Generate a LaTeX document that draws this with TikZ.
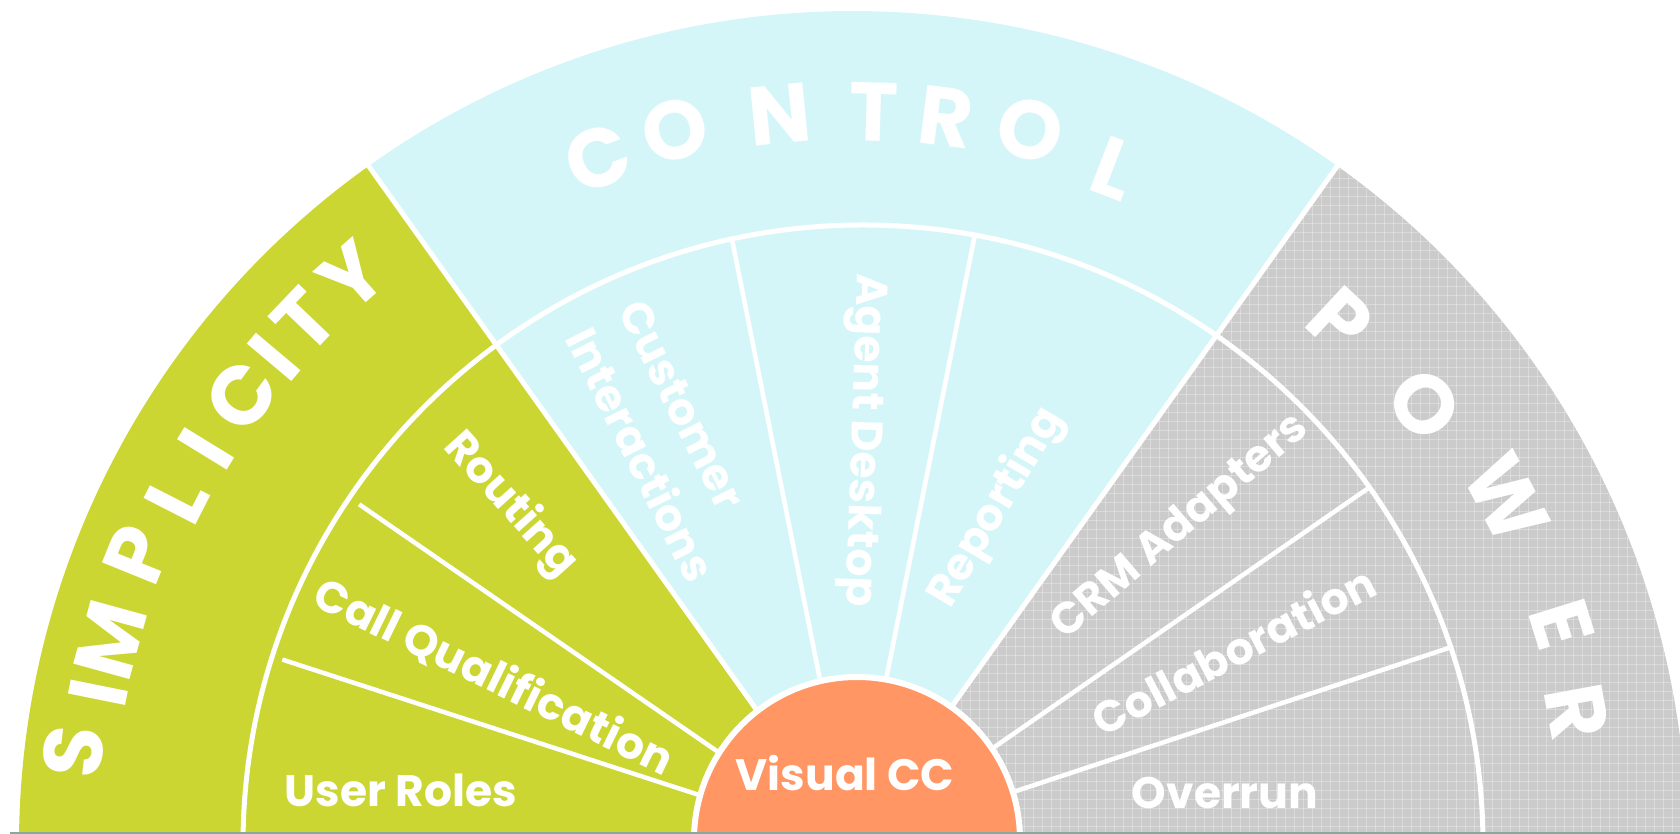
\documentclass[tikz,border=0pt]{standalone}
\usepackage{fontspec}
\setmainfont{Poppins}
\definecolor{simgreen}{RGB}{204,214,50}
\definecolor{ctlblue}{RGB}{213,246,249}
\definecolor{powgray}{RGB}{203,203,203}
\definecolor{ccorange}{RGB}{255,150,100}
\definecolor{baseteal}{RGB}{130,170,160}
\begin{document}
\begin{tikzpicture}[x=1pt,y=1pt,
  divider/.style={white,line width=5pt},
  subdivider/.style={white,line width=4.5pt},
  texture/.style={white,opacity=0.3,line width=1pt},
  catletter/.style={text=white,font=\fontsize{83}{83}\selectfont\bfseries,inner sep=0pt},
  sublabel/.style={text=white,font=\fontsize{44}{54}\selectfont\bfseries,inner sep=0pt}]
\useasboundingbox (-853,11) rectangle (827,845);
\begin{scope}
\clip (-853,11) rectangle (827,845);
% sectors
\fill[simgreen] (0,0) -- (182:834) arc[start angle=182,end angle=125.5,radius=834] -- cycle;
\fill[ctlblue] (0,0) -- (125.5:834) arc[start angle=125.5,end angle=54.5,radius=834] -- cycle;
\fill[powgray] (0,0) -- (54.5:834) arc[start angle=54.5,end angle=-2,radius=834] -- cycle;
% fine grid texture of the grey sector
\begin{scope}
\clip (0,0) -- (54.5:834) arc[start angle=54.5,end angle=-2,radius=834] -- cycle;
\foreach \k in {0,9,...,840} {
  \draw[texture] (\k,0) -- (\k,845);
  \draw[texture] (0,\k) -- (840,\k);
}
\end{scope}
% inner ring
\draw[divider] (10,0) circle[radius=620];
% main rays
\draw[divider] (125.5:150) -- (125.5:900);
\draw[divider] (54.5:150) -- (54.5:900);
% control sub dividers
\draw[subdivider] (101.3:150) -- (101.3:619);
\draw[subdivider] (78.7:150) -- (78.7:621);
% simplicity sub dividers
\draw[subdivider] (145.4:150) -- (145.4:600);
\draw[subdivider] (162:150) -- (162:600);
% power sub dividers
\draw[subdivider] (34.7:150) -- (34.7:626);
\draw[subdivider] (18.3:150) -- (18.3:628);
% hub
\draw[white,line width=6pt,fill=ccorange] (4,5) circle[radius=163];
% base line
\draw[baseteal,line width=2pt] (-843,12) -- (827,12);
% category letters
\foreach \ch/\a/\r [count=\i] in {S/173.2/785,I/168.6/770,M/164.6/770,P/157.9/772,L/152.9/760,I/148.5/759,C/143.7/759,I/139.9/757,T/136.3/759,Y/131.4/758}
  \node[catletter,rotate=\a-90] (sim\i) at (\a:\r) {\ch};
\foreach \ch/\a/\r [count=\i] in {C/110.4/733,O/104/737,N/95.7/734,T/88.4/733,R/82.7/734,O/76.1/737,L/68.9/725}
  \node[catletter,rotate=\a-90] (ctl\i) at (\a:\r) {\ch};
\foreach \ch/\a/\r [count=\i] in {P/47.1/716,O/37.6/722,W/27.9/740,E/17.3/743,R/10.4/736}
  \node[catletter,rotate=\a-90] (pow\i) at (\a:\r) {\ch};
% sub labels
\node[sublabel,rotate=-48] (routing) at (-343,340) {Routing};
\node[sublabel,rotate=-26] (callq) at (-359,168) {Call Qualification};
\node[sublabel] (roles) at (-452,55) {User Roles};
\node[sublabel,rotate=-63.5] (cust) at (-171,440) {Customer};
\node[sublabel,rotate=-63.5] (inter) at (-211,391) {Interactions};
\node[sublabel,rotate=-92] (agent) at (9,405) {Agent Desktop};
\node[sublabel,rotate=59.5] (report) at (144,337) {Reporting};
\node[sublabel,rotate=40.5] (crm) at (328,317) {CRM Adapters};
\node[sublabel,rotate=27.5] (collab) at (380,195) {Collaboration};
\node[sublabel] (overrun) at (372,52) {Overrun};
\node[sublabel] (visual) at (-8,72) {Visual CC};
\end{scope}
\end{tikzpicture}
\end{document}
